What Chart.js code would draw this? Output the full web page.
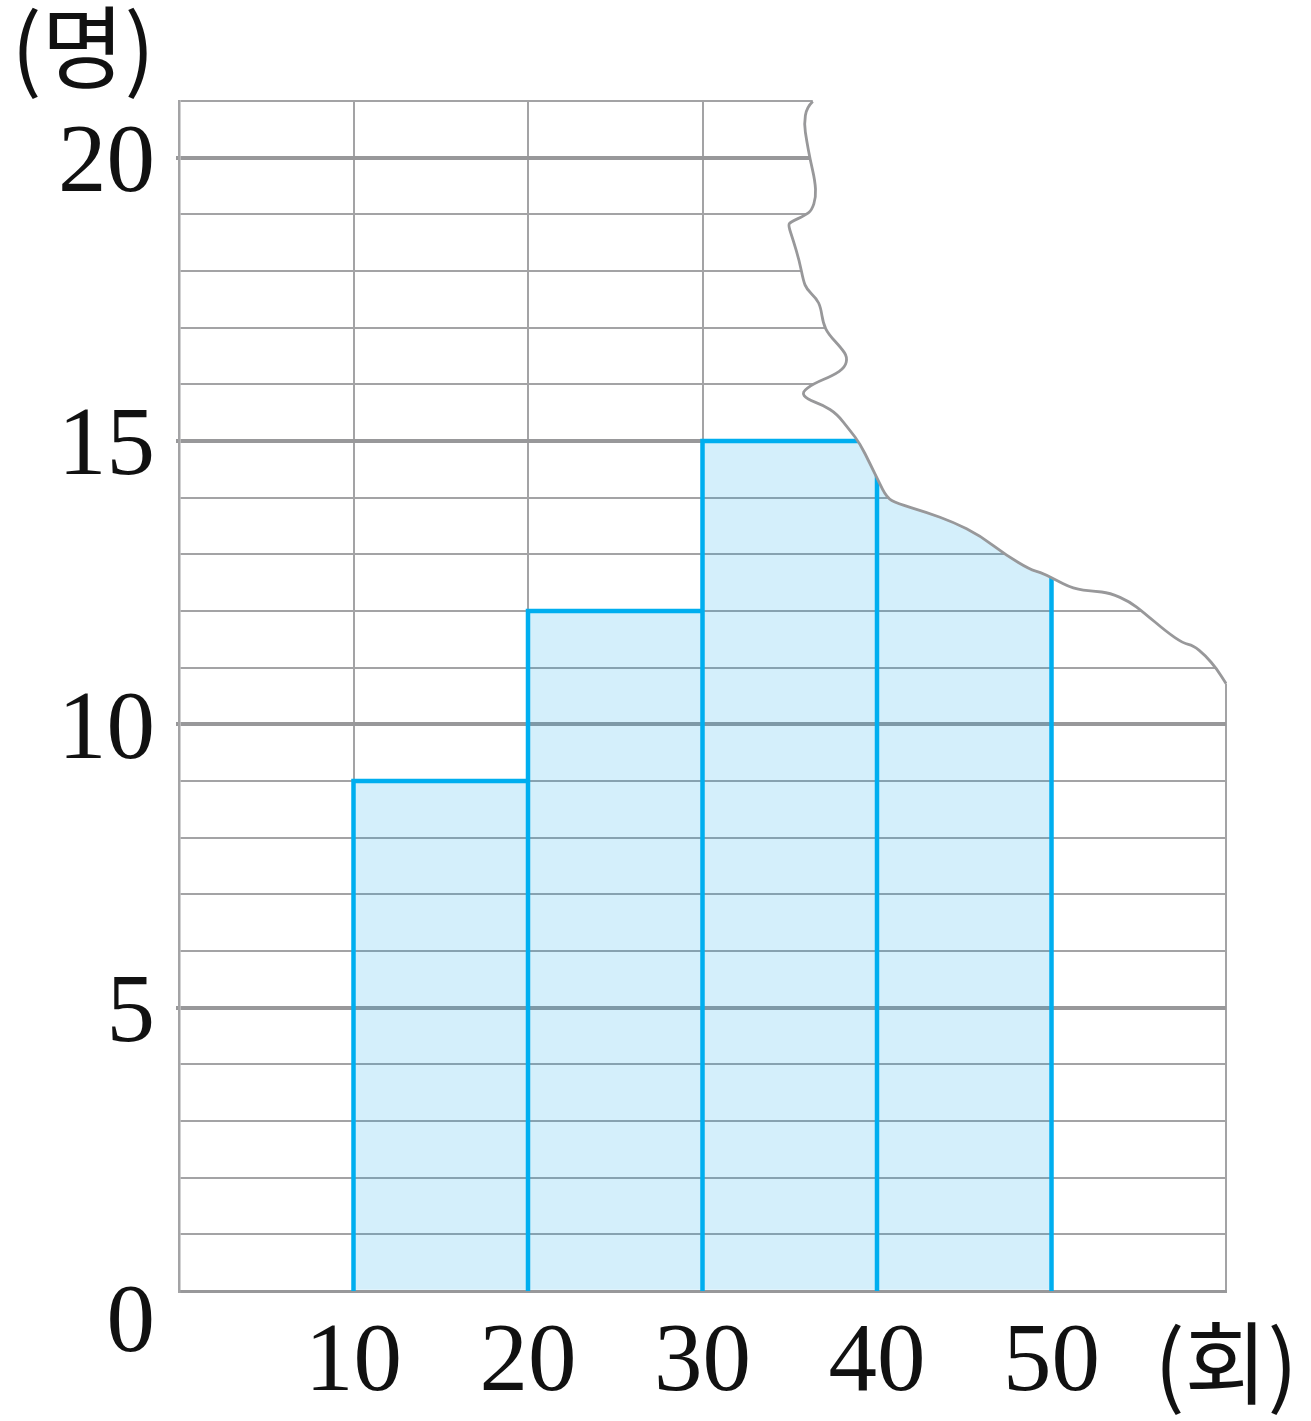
<!DOCTYPE html>
<html>
<head>
<meta charset="utf-8">
<script src="https://cdn.jsdelivr.net/npm/chart.js@4.4.1/dist/chart.umd.min.js"></script>
<style>
html,body{margin:0;padding:0;background:#fff;}
#wrap{width:1311px;height:1421px;position:relative;}
</style>
</head>
<body>
<div id="wrap"><canvas id="c"></canvas></div>
<script>
// ---- data ----
const classStarts = [10, 20, 30, 40];
const classWidth = 10;
const counts = [9, 12, 15, 15]; // last class is partly torn off; value estimated (hidden above the tear)
const xTickValues = [10, 20, 30, 40, 50, 60];
const xTickLabels = ['10', '20', '30', '40', '50', '(회)'];
const yTickValues = [0, 5, 10, 15, 20];
const yTickLabels = ['0', '5', '10', '15', '20'];
const yAxisTitle = '(명)';
// torn edge of the paper, in data units (x: 회, y: 명)
const tearX = [36.32,35.97,35.82,35.97,36.16,36.45,36.50,36.26,35.87,35.01,34.92,35.20,35.55,35.78,35.97,36.54,36.77,36.92,37.21,37.98,38.30,38.17,37.50,36.35,35.68,35.97,36.92,37.69,38.45,39.03,39.60,40.07,40.56,41.13,42.85,44.37,45.90,47.43,48.77,49.34,50.10,51.25,52.40,53.35,54.50,55.26,56.60,57.55,58.13,58.80,59.47,60.00];
const tearY = [20.99,20.89,20.60,20.30,19.98,19.59,19.30,19.07,18.98,18.86,18.80,18.54,18.18,17.83,17.68,17.51,17.36,17.07,16.89,16.63,16.48,16.30,16.16,16.01,15.86,15.74,15.63,15.48,15.19,14.95,14.60,14.30,14.00,13.90,13.74,13.57,13.33,12.98,12.73,12.69,12.57,12.39,12.35,12.32,12.16,11.98,11.63,11.43,11.39,11.22,10.98,10.72];

// ---- styles ----
const SERIF = '"Liberation Serif", "DejaVu Serif", serif';
const CJK = '"Noto Sans CJK KR", "Noto Sans CJK SC", sans-serif';
const GRID_MINOR = '#a3a3a5';
const GRID_MAJOR = '#98989a';
const BLUE = '#00aeef';

const barData = classStarts.map((s, i) => ({ x: s + classWidth / 2, y: counts[i] }));
const outlineData = [];
classStarts.forEach((s, i) => {
  const e = s + classWidth;
  outlineData.push({ x: s, y: 0 }, { x: s, y: counts[i] }, { x: e, y: counts[i] }, { x: e, y: 0 }, { x: e, y: null });
});

function tracePath(ctx, pts) {
  ctx.moveTo(pts[0][0], pts[0][1]);
  for (let i = 1; i < pts.length - 1; i++) {
    const mx = (pts[i][0] + pts[i + 1][0]) / 2;
    const my = (pts[i][1] + pts[i + 1][1]) / 2;
    ctx.quadraticCurveTo(pts[i][0], pts[i][1], mx, my);
  }
  const l = pts[pts.length - 1];
  ctx.lineTo(l[0], l[1]);
}

const tearPlugin = {
  id: 'tear',
  afterDatasetsDraw(chart) {
    const { ctx, chartArea, scales } = chart;
    const xs = scales.x, ys = scales.y;
    const pts = tearX.map((v, i) => [xs.getPixelForValue(v), ys.getPixelForValue(tearY[i])]);
    ctx.save();
    ctx.beginPath();
    tracePath(ctx, pts);
    const last = pts[pts.length - 1];
    ctx.lineTo(chartArea.right + 14, last[1]);
    ctx.lineTo(chartArea.right + 14, chartArea.top - 14);
    ctx.lineTo(pts[0][0], chartArea.top - 14);
    ctx.closePath();
    ctx.fillStyle = '#ffffff';
    ctx.fill();
    ctx.beginPath();
    tracePath(ctx, pts);
    ctx.strokeStyle = GRID_MAJOR;
    ctx.lineWidth = 2.8;
    ctx.lineJoin = 'round';
    ctx.stroke();
    ctx.restore();
  },
  afterDraw(chart) {
    const ctx = chart.ctx;
    ctx.save();
    ctx.font = '90px ' + CJK;
    ctx.fillStyle = '#111';
    ctx.textAlign = 'center';
    ctx.textBaseline = 'middle';
    ctx.fillText(yAxisTitle, 83, 47);
    ctx.restore();
  }
};

new Chart(document.getElementById('c'), {
  type: 'line',
  data: {
    datasets: [
      {
        type: 'line',
        data: outlineData,
        borderColor: BLUE,
        borderWidth: 4.5,
        pointRadius: 0,
        tension: 0,
        fill: false,
        spanGaps: false,
        order: 1
      },
      {
        type: 'bar',
        data: barData,
        backgroundColor: 'rgba(0,160,233,0.17)',
        borderWidth: 0,
        barPercentage: 1,
        categoryPercentage: 1,
        order: 2
      }
    ]
  },
  options: {
    responsive: true,
    maintainAspectRatio: false,
    animation: false,
    events: [],
    layout: { padding: { left: 0, top: 101, right: 85, bottom: 0 } },
    plugins: { legend: { display: false }, tooltip: { enabled: false } },
    scales: {
      x: {
        type: 'linear',
        min: 0,
        max: 60,
        offset: false,
        afterFit: (s) => { s.height = 130; s.paddingLeft = 0; s.paddingRight = 0; },
        grid: {
          offset: false,
          color: GRID_MINOR,
          lineWidth: 2,
          drawTicks: false
        },
        border: { display: true, color: GRID_MAJOR, width: 3 },
        ticks: {
          stepSize: 10,
          autoSkip: false,
          maxRotation: 0,
          padding: 25,
          color: '#111',
          font: (c) => (c.tick && c.tick.value === 60)
            ? { family: CJK, size: 90, lineHeight: 1.05 }
            : { family: SERIF, size: 97, lineHeight: 1 },
          callback: (v) => { const i = xTickValues.indexOf(v); return i >= 0 ? xTickLabels[i] : ''; }
        }
      },
      y: {
        type: 'linear',
        min: 0,
        max: 21,
        afterFit: (s) => { s.width = 179; },
        grid: {
          color: (c) => (c.tick && c.tick.value % 5 === 0) ? GRID_MAJOR : GRID_MINOR,
          lineWidth: (c) => (c.tick && c.tick.value % 5 === 0 && c.tick.value !== 0) ? 4 : (c.tick && c.tick.value === 0 ? 3 : 2),
          drawTicks: true,
          tickLength: 3,
          tickWidth: 4,
          tickColor: (c) => (c.tick && c.tick.value % 5 === 0 && c.tick.value !== 0) ? GRID_MAJOR : 'rgba(0,0,0,0)'
        },
        border: { display: true, color: GRID_MINOR, width: 2.5 },
        ticks: {
          stepSize: 1,
          autoSkip: false,
          padding: 21,
          labelOffset: 8,
          color: '#111',
          font: { family: SERIF, size: 97, lineHeight: 0.54 },
          callback: (v) => {
            const i = yTickValues.indexOf(v);
            if (i < 0) return '';
            return v === 0 ? ['', yTickLabels[i]] : yTickLabels[i];
          }
        }
      }
    }
  },
  plugins: [tearPlugin]
});
</script>
</body>
</html>
